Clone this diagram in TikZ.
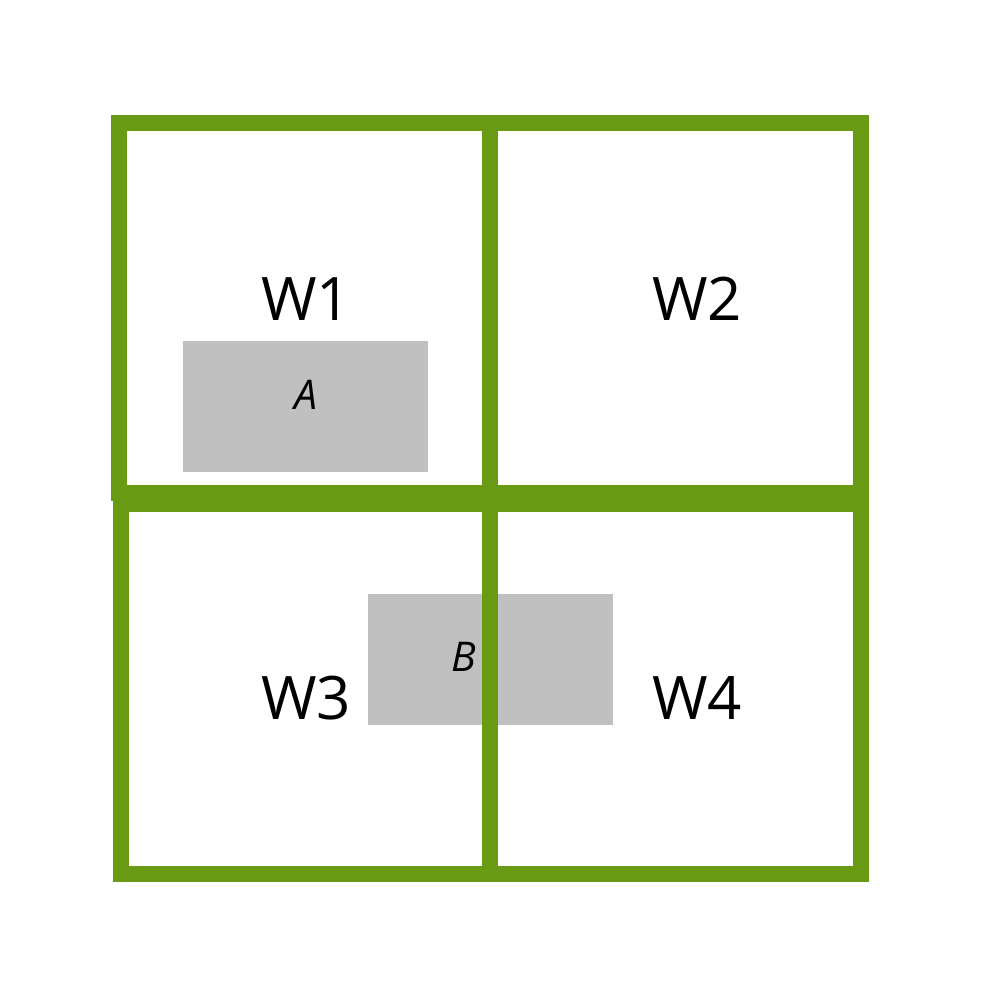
\documentclass[tikz,border=0pt]{standalone}
\usepackage{fontspec}
\setmainfont{Open Sans}
\definecolor{wgreen}{HTML}{699A13}
\definecolor{wgray}{HTML}{C0C0C0}
\tikzset{
  wsquare/.style={draw=wgreen, line width=16pt, inner sep=0pt, outer sep=0pt},
  grayrect/.style={fill=wgray, draw=none, inner sep=0pt, outer sep=0pt},
  bigtext/.style={font=\fontsize{60}{68}\selectfont, inner sep=0pt, anchor=base},
  smalltext/.style={font=\fontsize{41}{48}\selectfont\itshape, inner sep=0pt, anchor=base},
}
\begin{document}
\begin{tikzpicture}[x=1pt,y=-1pt]
\useasboundingbox (0,0) rectangle (1000,1000);
% gray rectangles
\node[grayrect, minimum width=245pt, minimum height=131pt] (ra) at (305.5,406.5) {};
\node[grayrect, minimum width=244.5pt, minimum height=131.5pt] (rb) at (490.5,659.25) {};
% squares
\node[wsquare, minimum width=371pt, minimum height=370pt] (w1) at (304.5,308) {};
\node[wsquare, minimum width=370.5pt, minimum height=370pt] (w2) at (675.25,308) {};
\node[wsquare, minimum width=369.5pt, minimum height=370pt] (w3) at (305.25,689) {};
\node[wsquare, minimum width=371pt, minimum height=370pt] (w4) at (675.5,689) {};
% labels
\node[bigtext] (t1) at (306,320) {W1};
\node[bigtext] (t2) at (697,320) {W2};
\node[bigtext] (t3) at (306,719) {W3};
\node[bigtext] (t4) at (697,719) {W4};
\node[smalltext] (ta) at (306,409) {A};
\node[smalltext] (tb) at (464,671) {B};
\end{tikzpicture}
\end{document}
